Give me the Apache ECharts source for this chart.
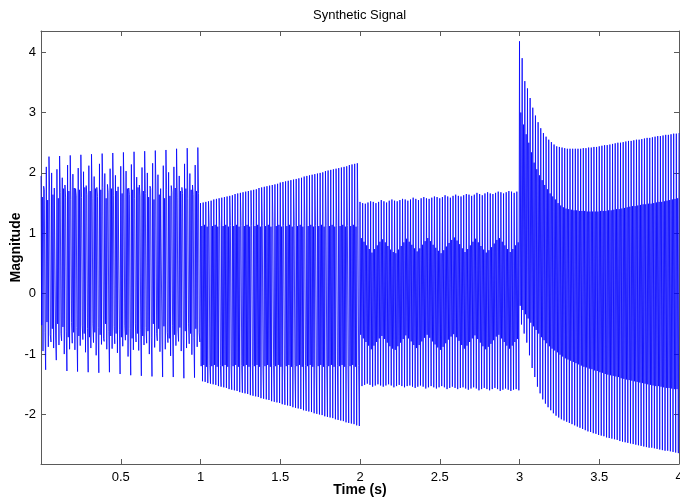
<!DOCTYPE html>
<html><head><meta charset="utf-8">
<script src="https://cdn.jsdelivr.net/npm/echarts@6/dist/echarts.min.js"></script>
<style>html,body{margin:0;padding:0;background:#fff}#c{width:680px;height:502px}</style>
</head><body><div id="c"></div>
<script>
// Signal is stored per oscillation cycle: each cycle is four samples taken in the
// order top -> mid1 -> mid2 -> bottom. 60 cycles per 1-second segment.
const sampleRate = 240;
const segmentStarts = [0, 1, 2, 3];

// ---- Segment 1 (0-1 s) ----
const seg1Top = [
1.95,1.78,2.10,2.27, 2.00,1.75,2.06,2.28, 1.92,1.80,2.13,2.29, 1.98,1.74,2.08,2.30,
2.02,1.79,2.12,2.31, 1.94,1.76,2.15,2.32, 1.99,1.81,2.07,2.33, 1.96,1.77,2.11,2.34,
2.03,1.75,2.14,2.35, 1.93,1.80,2.09,2.36, 2.00,1.78,2.16,2.37, 1.97,1.74,2.12,2.38,
2.01,1.79,2.10,2.40, 1.95,1.76,2.15,2.41, 1.99,1.80,2.13,2.42];
const seg1Mid1 = [
-0.52,1.72,-0.47,1.70,-0.58,1.76,-0.50,1.68,-0.55,1.60,-0.72,1.56,-0.64,1.62,-0.70,
1.59,-0.66,1.64,-0.72,1.57,-0.64,1.61,-0.68,1.76,-0.50,1.68,-0.70,1.62,-0.66,1.76,
-0.72,1.60,-0.68,1.64,-0.74,1.58,-0.66,1.62,-0.70,1.66,-0.62,1.74,-0.50,1.70,-0.58,
1.76,-0.54,1.72,-0.74,1.68,-0.68,1.60,-0.56,1.66,-0.62,1.58,-0.66,1.64,-0.58,1.66];
const seg1Mid2 = [
1.60,-0.64,1.55,-0.68,1.64,-0.70,1.58,-0.66,1.74,-0.62,1.70,-0.48,1.75,-0.56,1.72,
-0.52,1.76,-0.58,1.70,-0.50,1.74,-0.56,1.72,-0.74,1.58,-0.62,1.74,-0.54,1.70,-0.60,
1.66,-0.52,1.74,-0.58,1.72,-0.50,1.76,-0.60,1.70,-0.56,1.60,-0.72,1.56,-0.66,1.64,
-0.70,1.58,-0.64,1.62,-0.52,1.75,-0.60,1.70,-0.70,1.74,-0.50,1.72,-0.72,1.70,-0.64];
const seg1Bottom = [
-0.95,-1.26,-0.88,-0.80, -0.90,-1.10,-0.85,-0.78, -1.00,-1.28,-0.92,-0.82, -0.93,-1.29,-0.86,-0.76,
-0.97,-1.30,-0.90,-0.81, -1.02,-1.31,-0.84,-0.79, -0.92,-1.30,-0.91,-0.83, -0.98,-1.33,-0.87,-0.77,
-1.04,-1.35,-0.93,-0.80, -0.94,-1.36,-0.85,-0.82, -1.00,-1.37,-0.89,-0.78, -0.96,-1.38,-0.92,-0.81,
-1.03,-1.38,-0.86,-0.79, -0.95,-1.40,-0.90,-0.83, -1.01,-1.39,-0.88,-0.80];

// ---- Segment 2 (1-2 s) ----
const seg2Top = [
1.50,1.51,1.52,1.53,1.54,1.56,1.57,1.58,1.59,1.60,1.61,1.62,1.63,1.65,1.66,
1.67,1.68,1.69,1.70,1.71,1.72,1.73,1.75,1.76,1.77,1.78,1.79,1.80,1.81,1.82,
1.84,1.85,1.86,1.87,1.88,1.89,1.90,1.91,1.92,1.94,1.95,1.96,1.97,1.98,1.99,
2.00,2.01,2.03,2.04,2.05,2.06,2.07,2.08,2.09,2.10,2.11,2.13,2.14,2.15,2.16];
const seg2Mid1 = [
-1.20,-1.18,-1.21,1.13,-1.20,-1.18,-1.21,1.13,-1.20,-1.18,-1.21,1.13,-1.20,-1.18,-1.21,
1.13,-1.20,-1.18,-1.21,1.13,-1.20,-1.18,-1.21,1.13,-1.20,-1.18,-1.21,1.13,-1.20,-1.18,
-1.21,1.13,-1.20,-1.18,-1.21,1.13,-1.20,-1.18,-1.21,1.13,-1.20,-1.18,-1.21,1.13,-1.20,
-1.18,-1.21,1.13,-1.20,-1.18,-1.21,1.13,-1.20,-1.18,-1.21,1.13,-1.20,-1.18,-1.21,1.13];
const seg2Mid2 = [
1.12,1.14,1.11,-1.19,1.12,1.14,1.11,-1.19,1.12,1.14,1.11,-1.19,1.12,1.14,1.11,
-1.19,1.12,1.14,1.11,-1.19,1.12,1.14,1.11,-1.19,1.12,1.14,1.11,-1.19,1.12,1.14,
1.11,-1.19,1.12,1.14,1.11,-1.19,1.12,1.14,1.11,-1.19,1.12,1.14,1.11,-1.19,1.12,
1.14,1.11,-1.19,1.12,1.14,1.11,-1.19,1.12,1.14,1.11,-1.19,1.12,1.14,1.11,-1.19];
const seg2Bottom = [
-1.45,-1.46,-1.48,-1.49,-1.50,-1.51,-1.53,-1.54,-1.55,-1.56,-1.58,-1.59,-1.60,-1.61,-1.63,
-1.64,-1.65,-1.66,-1.68,-1.69,-1.70,-1.71,-1.73,-1.74,-1.75,-1.76,-1.78,-1.79,-1.80,-1.81,
-1.83,-1.84,-1.85,-1.86,-1.88,-1.89,-1.90,-1.91,-1.93,-1.94,-1.95,-1.96,-1.98,-1.99,-2.00,
-2.01,-2.03,-2.04,-2.05,-2.06,-2.08,-2.09,-2.10,-2.11,-2.13,-2.14,-2.15,-2.16,-2.18,-2.19];

// ---- Segment 3 (2-3 s) ----
const seg3Top = [
1.52,1.50,1.49,1.51,1.53,1.52,1.50,1.52,1.55,1.53,1.51,1.54,1.56,1.54,1.53,
1.55,1.57,1.56,1.54,1.56,1.59,1.57,1.55,1.58,1.60,1.58,1.57,1.59,1.61,1.60,
1.58,1.60,1.63,1.61,1.59,1.62,1.64,1.62,1.61,1.63,1.65,1.64,1.62,1.64,1.67,
1.65,1.63,1.66,1.68,1.66,1.65,1.67,1.69,1.68,1.66,1.68,1.70,1.69,1.67,1.69];
const seg3Mid1 = [
-0.68,-0.74,-0.80,-0.86,-0.92,-0.86,-0.80,-0.74,
-0.70,-0.75,-0.81,-0.87,-0.91,-0.93,-0.87,-0.81,-0.75,
-0.69,-0.74,-0.79,-0.85,-0.90,-0.85,-0.79,-0.73,-0.68,
-0.73,-0.79,-0.84,-0.89,-0.93,-0.88,-0.82,-0.76,-0.71,-0.67,
-0.72,-0.78,-0.85,-0.91,-0.86,-0.80,-0.74,
-0.69,-0.75,-0.81,-0.87,-0.92,-0.88,-0.83,-0.77,-0.71,
-0.68,-0.74,-0.80,-0.86,-0.91,-0.86,-0.80,-0.75];
const seg3Mid2 = [
0.92,0.86,0.80,0.74,0.68,0.74,0.80,0.86,
0.90,0.85,0.79,0.73,0.69,0.67,0.73,0.79,0.85,
0.91,0.86,0.81,0.75,0.70,0.75,0.81,0.87,0.92,
0.87,0.81,0.76,0.71,0.67,0.72,0.78,0.84,0.89,0.93,
0.88,0.82,0.75,0.69,0.74,0.80,0.86,
0.91,0.85,0.79,0.73,0.68,0.72,0.77,0.83,0.89,
0.92,0.86,0.80,0.74,0.69,0.74,0.80,0.85];
const seg3Bottom = [
-1.53,-1.51,-1.49,-1.51,-1.54,-1.52,-1.50,-1.52,-1.54,-1.52,-1.50,-1.52,-1.55,-1.53,-1.51,
-1.53,-1.55,-1.53,-1.52,-1.54,-1.56,-1.54,-1.52,-1.54,-1.57,-1.55,-1.53,-1.55,-1.57,-1.55,
-1.53,-1.55,-1.58,-1.56,-1.54,-1.56,-1.58,-1.56,-1.55,-1.57,-1.59,-1.57,-1.55,-1.57,-1.60,
-1.58,-1.56,-1.58,-1.60,-1.58,-1.56,-1.58,-1.61,-1.59,-1.57,-1.59,-1.61,-1.59,-1.58,-1.60];

// ---- Segment 4 (3-4 s) ----
const seg4Top = [
4.18,3.90,3.52,3.40,3.24,3.08,2.95,2.84,2.74,2.66,2.60,2.55,2.51,2.47,2.44,
2.43,2.42,2.41,2.40,2.40,2.40,2.40,2.40,2.40,2.41,2.41,2.42,2.42,2.43,2.43,
2.44,2.45,2.46,2.46,2.47,2.48,2.49,2.50,2.50,2.51,2.52,2.53,2.53,2.54,2.55,
2.55,2.56,2.57,2.58,2.58,2.59,2.60,2.61,2.61,2.62,2.63,2.63,2.64,2.65,2.65];
const seg4Mid1 = [
-0.20,-0.27,-0.34,-0.41,-0.48,-0.54,-0.60,-0.66,-0.72,-0.77,-0.82,-0.87,-0.91,-0.94,-0.97,
-1.01,-1.04,-1.07,-1.09,-1.11,-1.13,-1.15,-1.17,-1.19,-1.21,-1.22,-1.24,-1.25,-1.27,-1.28,
-1.30,-1.31,-1.33,-1.34,-1.35,-1.36,-1.37,-1.38,-1.40,-1.41,-1.42,-1.43,-1.44,-1.45,-1.46,
-1.47,-1.48,-1.49,-1.50,-1.51,-1.52,-1.53,-1.53,-1.54,-1.55,-1.56,-1.56,-1.57,-1.58,-1.58];
const seg4Mid2 = [
3.00,2.80,2.64,2.50,2.34,2.17,2.06,1.96,1.88,1.80,1.73,1.66,1.61,1.56,1.50,
1.46,1.43,1.41,1.40,1.39,1.38,1.38,1.37,1.37,1.37,1.36,1.36,1.36,1.36,1.36,
1.37,1.37,1.37,1.38,1.38,1.39,1.40,1.40,1.41,1.42,1.43,1.44,1.45,1.45,1.46,
1.47,1.48,1.48,1.49,1.49,1.50,1.51,1.52,1.52,1.53,1.54,1.55,1.56,1.57,1.58];
const seg4Bottom = [
-0.51,-0.66,-0.81,-1.02,-1.23,-1.38,-1.54,-1.65,-1.75,-1.82,-1.88,-1.93,-1.98,-2.02,-2.05,
-2.08,-2.10,-2.12,-2.14,-2.16,-2.18,-2.20,-2.22,-2.24,-2.26,-2.28,-2.29,-2.31,-2.32,-2.34,
-2.35,-2.36,-2.38,-2.39,-2.40,-2.41,-2.42,-2.44,-2.45,-2.46,-2.47,-2.48,-2.49,-2.50,-2.51,
-2.52,-2.53,-2.54,-2.55,-2.55,-2.56,-2.57,-2.58,-2.59,-2.60,-2.60,-2.61,-2.62,-2.63,-2.64];
const finalSample = [4, 2.66];

const xTicks = [0.5, 1, 1.5, 2, 2.5, 3, 3.5, 4];
const yTicks = [-2, -1, 0, 1, 2, 3, 4];

const segments = [
  [seg1Top, seg1Mid1, seg1Mid2, seg1Bottom],
  [seg2Top, seg2Mid1, seg2Mid2, seg2Bottom],
  [seg3Top, seg3Mid1, seg3Mid2, seg3Bottom],
  [seg4Top, seg4Mid1, seg4Mid2, seg4Bottom]
];
const data = [];
segments.forEach((roles, j) => {
  roles[0].forEach((_, k) => {
    roles.forEach((arr, r) => {
      data.push([segmentStarts[j] + (4 * k + r) / sampleRate, arr[k]]);
    });
  });
});
data.push(finalSample);

const font = '"Liberation Sans", Arial, Helvetica, sans-serif';
const axisColor = '#5a5a5a';
const xMin = 0, xMax = 4, yMin = -2.82, yMax = 4.35;

function xAx(pos, withLabels) {
  return {
    type: 'value', min: xMin, max: xMax, position: pos,
    axisLine: { onZero: false, lineStyle: { color: axisColor, width: 1 } },
    axisTick: { inside: true, length: 5, customValues: xTicks, lineStyle: { color: axisColor } },
    axisLabel: withLabels ? { customValues: xTicks, color: '#000', fontSize: 13, margin: 7, fontFamily: font } : { show: false },
    splitLine: { show: false },
    name: withLabels ? 'Time (s)' : '',
    nameLocation: 'middle', nameGap: 19, nameMoveOverlap: false,
    nameTextStyle: { fontWeight: 'bold', fontSize: 14, color: '#000', fontFamily: font }
  };
}
function yAx(pos, withLabels) {
  return {
    type: 'value', min: yMin, max: yMax, position: pos,
    axisLine: { onZero: false, lineStyle: { color: axisColor, width: 1 } },
    axisTick: { inside: true, length: 5, customValues: yTicks, lineStyle: { color: axisColor } },
    axisLabel: withLabels ? { customValues: yTicks, color: '#000', fontSize: 13, margin: 5, fontFamily: font } : { show: false },
    splitLine: { show: false },
    name: withLabels ? 'Magnitude' : '',
    nameLocation: 'middle', nameGap: 18, nameMoveOverlap: false,
    nameTextStyle: { fontWeight: 'bold', fontSize: 14, color: '#000', fontFamily: font }
  };
}

const chart = echarts.init(document.getElementById('c'), null, { renderer: 'canvas' });
chart.setOption({
  animation: false,
  backgroundColor: '#ffffff',
  title: {
    text: 'Synthetic Signal', left: 308, top: 4,
    textStyle: { fontSize: 13, fontWeight: 'normal', color: '#000', fontFamily: font }
  },
  grid: { left: 41, right: 1, top: 31, bottom: 38, containLabel: false, outerBoundsMode: 'none' },
  xAxis: [xAx('bottom', true), xAx('top', false)],
  yAxis: [yAx('left', true), yAx('right', false)],
  series: [{
    type: 'line', data: data, xAxisIndex: 0, yAxisIndex: 0,
    showSymbol: false, symbol: 'none',
    lineStyle: { color: '#0000ff', width: 0.8 },
    emphasis: { disabled: true }
  }]
});
</script></body></html>
